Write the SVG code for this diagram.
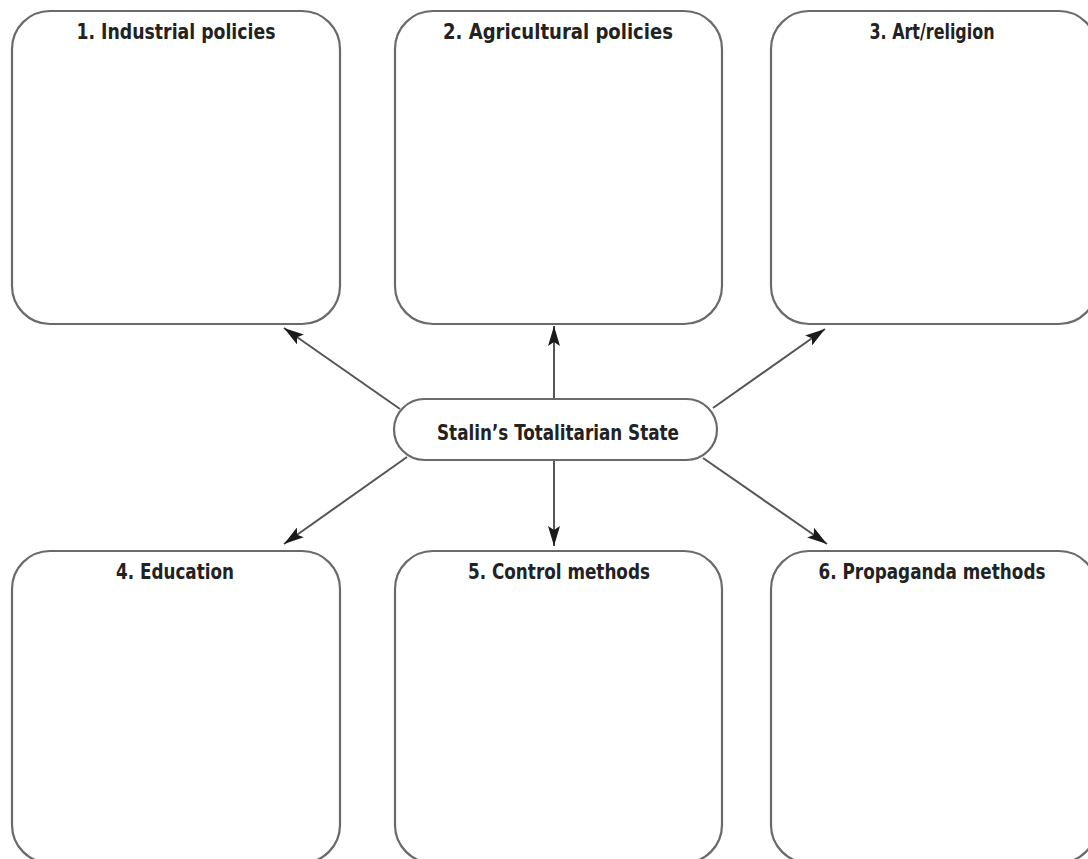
<svg xmlns="http://www.w3.org/2000/svg" width="1088" height="859" viewBox="0 0 1088 859">
<style>
.box{fill:#fff;stroke:#6a6a6a;stroke-width:2.2}
.lbl{font-family:"Liberation Sans Narrow","DejaVu Sans Condensed","Liberation Sans",sans-serif;font-weight:bold;font-size:22px;fill:#222;text-anchor:middle}
.conn{stroke:#555;stroke-width:2;fill:none;marker-end:url(#ah)}
</style>
<defs>
<marker id="ah" viewBox="0 0 20 12" refX="20" refY="6" markerWidth="20" markerHeight="12" markerUnits="userSpaceOnUse" orient="auto">
<path d="M0,0 L20,6 L0,12 L4,6 Z" fill="#1a1a1a"/>
</marker>
</defs>
<rect width="1088" height="859" fill="#fff"/>
<g id="connectors">
<line class="conn" x1="400" y1="409" x2="284" y2="328"/>
<line class="conn" x1="554" y1="399" x2="554" y2="326"/>
<line class="conn" x1="713" y1="408" x2="825" y2="329"/>
<line class="conn" x1="407" y1="457" x2="284" y2="544"/>
<line class="conn" x1="554" y1="460" x2="554" y2="546"/>
<line class="conn" x1="703" y1="458" x2="827" y2="544"/>
</g>
<g id="node1">
<rect class="box" x="12" y="11" width="328" height="313" rx="38" ry="38"/>
<text class="lbl" x="176" y="39" textLength="199" lengthAdjust="spacingAndGlyphs">1. Industrial policies</text>
</g>
<g id="node2">
<rect class="box" x="395" y="11" width="327" height="313" rx="38" ry="38"/>
<text class="lbl" x="558" y="39" textLength="230" lengthAdjust="spacingAndGlyphs">2. Agricultural policies</text>
</g>
<g id="node3">
<rect class="box" x="771" y="11" width="326" height="313" rx="38" ry="38"/>
<text class="lbl" x="932" y="39" textLength="125" lengthAdjust="spacingAndGlyphs">3. Art/religion</text>
</g>
<g id="node4">
<rect class="box" x="12" y="551" width="328" height="312" rx="38" ry="38"/>
<text class="lbl" x="175" y="579" textLength="118" lengthAdjust="spacingAndGlyphs">4. Education</text>
</g>
<g id="node5">
<rect class="box" x="395" y="551" width="327" height="312" rx="38" ry="38"/>
<text class="lbl" x="559" y="579" textLength="182" lengthAdjust="spacingAndGlyphs">5. Control methods</text>
</g>
<g id="node6">
<rect class="box" x="771" y="551" width="326" height="312" rx="38" ry="38"/>
<text class="lbl" x="932" y="579" textLength="227" lengthAdjust="spacingAndGlyphs">6. Propaganda methods</text>
</g>
<g id="center">
<rect class="box" x="394" y="399" width="323" height="61" rx="30.5" ry="30.5"/>
<text class="lbl" x="558" y="440" textLength="242" lengthAdjust="spacingAndGlyphs">Stalin’s Totalitarian State</text>
</g>
</svg>
